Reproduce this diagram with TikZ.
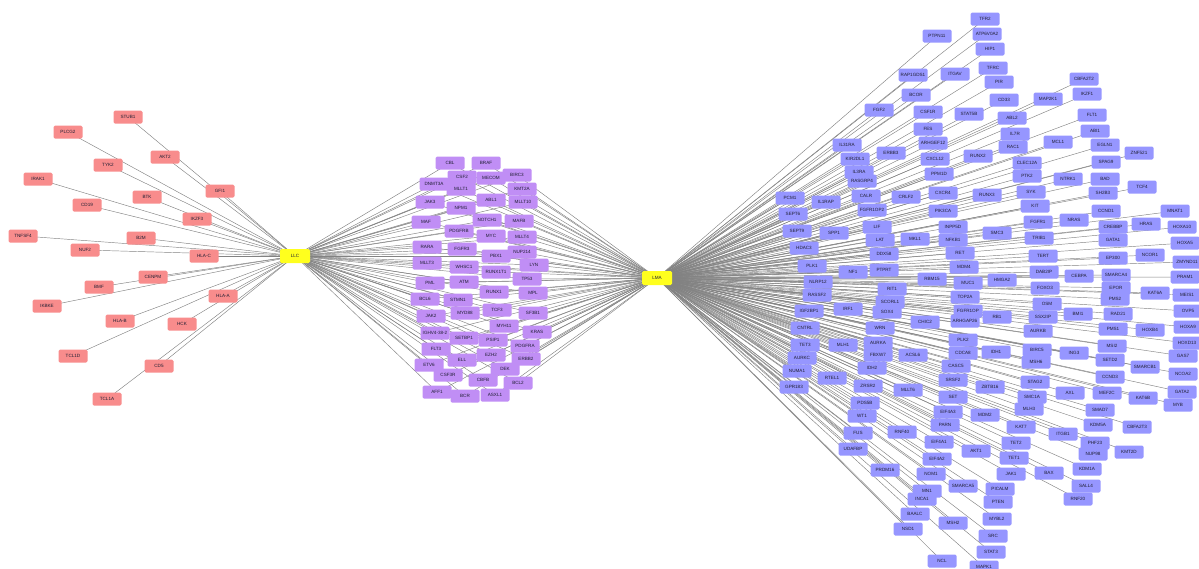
\documentclass[tikz,border=0pt]{standalone}
\usepackage{fontspec}
\newfontfamily\labfont{Liberation Sans}
\usetikzlibrary{backgrounds}
\definecolor{llcred}{RGB}{248,140,140}
\definecolor{midpurple}{RGB}{192,142,245}
\definecolor{lmablue}{RGB}{150,150,255}
\definecolor{hubyellow}{RGB}{255,255,30}
\definecolor{edgegray}{RGB}{130,130,130}
\definecolor{labink}{RGB}{30,30,50}
\tikzset{
  gene/.style={rounded corners=1.5pt, minimum width=29pt, minimum height=13pt,
    inner sep=0.5pt, font=\labfont\fontsize{4.6}{5}\selectfont, text=labink},
  llcgene/.style={gene, fill=llcred},
  sharedgene/.style={gene, fill=midpurple},
  lmagene/.style={gene, fill=lmablue},
  hub/.style={gene, fill=hubyellow, minimum width=30pt, minimum height=14pt},
  link/.style={draw=edgegray, line width=0.45pt}
}
% genes linked to LLC only
\def\llclist{STUB1/128/117, PLCG2/68/132, AKT2/165/157, TYK2/108/165, GFI1/220/191,
  IRAK1/38/179, BTK/147/197, CD19/87/205, IKZF3/197/219, TNFSF4/23/236, B2M/141/238,
  NUF2/85/250, HLA-C/204/256, CENPM/153/277, BMF/99/287, IKBKE/47/306, HLA-A/223/296,
  HLA-B/120/321, HCK/182/324, TCL1D/73/356, CD5/159/366, TCL1A/107/399}
% genes shared by LLC and LMA
\def\midlist{CBL/450/163, BRAF/486/163, CSF2/462/177, MECOM/491/178, BIRC3/517/175,
  DNMT3A/434/184, MLLT1/461/189, KMT2A/522/189, ABL1/491/200, MLLT10/523/202,
  JAK3/430/202, NPM1/461/208, NOTCH1/487/220, MAFB/519/221, MAF/426/222,
  PDGFRB/459/231, MYC/491/236, MLLT4/522/237, RARA/427/247, FGFR3/462/249,
  NUP214/522/252, PBX1/496/256, MLLT3/427/263, WHSC1/464/267, LYN/534/265,
  RUNX1T1/496/272, TP53/527/279, PML/430/283, ATM/464/282, RUNX1/494/292,
  MPL/533/293, BCL6/425/299, STMN1/458/300, TCF3/497/310, MYD88/465/313,
  SF3B1/533/313, JAK2/431/316, MYH11/504/326, KRAS/537/332, IGHV4-38-2/435/333,
  SETBP1/464/338, PSIP1/493/340, PDGFRA/525/346, FLT3/436/349, EZH2/491/355,
  ERBB2/526/359, ELL/462/360, ETV6/429/365, DEK/505/369, CSF3R/448/375,
  CBFB/483/380, BCL2/518/383, AFF1/437/392, BCR/465/396, ASXL1/495/395}
% genes linked to LMA only
\def\lmalistA{TFR2/985/19, PTPN11/937/36, ATP6V0A2/987/34, HIP1/990/49, RAP1GDS1/913/75,
  ITGAV/955/74, TFRC/993/68, PIR/999/82, BCOR/916/95, CD33/1004/100, FGF2/879/110,
  CSF1R/928/112, STAT5B/969/114, ABL2/1012/118, FES/928/129, IL7R/1015/134,
  ARHGEF12/933/143, IL31RA/847/145, RAC1/1013/147, ERBB3/891/153, KIR2DL1/855/159,
  CXCL12/935/159, RUNX2/978/156, CLEC12A/1027/163, IL3RA/859/172, PPM1D/939/174,
  PTK2/1027/176, RASGRP4/862/181, PCM1/790/198, IL1RAP/826/202, CALR/866/196,
  CRLF2/906/197, CXCR4/943/193, RUNX3/987/195, SYK/1031/192, FGFR1OP2/872/210,
  SEPT6/793/214, PIK3CA/943/211, KIT/1035/206, LIF/877/227, INPP5D/953/227,
  SEPT9/797/231, SPP1/834/233, SMC3/997/233, LAT/880/240, MKL1/915/239,
  NFKB1/953/240, HDAC3/804/248, DDX58/884/254, RET/960/253, PLK1/812/266,
  NF1/853/272, PTPRT/884/270, MDM4/964/267, RBM15/932/279, NLRP12/818/282,
  MUC1/968/283, RIT1/892/289, RASSF2/817/295, TOP2A/965/297, SCORL1/890/302,
  IGF2BP1/809/311, IRF1/848/309, SOX4/887/312, FGFR1OP/968/311, ARHGAP26/965/321,
  CHIC2/925/322, CNTRL/805/328, WRN/880/328, PLK2/963/340, TET3/805/345,
  MLH1/843/345, AURKA/878/343, FBXW7/878/355, ACSL6/913/355, CDCA8/963/353,
  AURKC/802/358, IDH2/872/368, CASC5/956/366, NUMA1/797/371, RTEL1/832/378,
  SRSF2/953/380, GPR183/794/387, ZRSR2/868/386, MLLT6/908/390, SET/953/397,
  PDS5B/865/403, WT1/862/416, EIF4A3/948/412, MDM2/985/415, PARN/945/425,
  FUS/858/433, RNF40/902/432, EIF4A1/939/442, UDAFBP/853/449, AKT1/976/451,
  EIF4A2/937/459, PRDM16/885/470, NOM1/931/474, SMARCA5/963/486, MN1/927/491,
  INCA1/922/499, BAALC/915/514, MSH2/953/523, NSD1/908/529, SRC/993/536,
  STAT3/991/552, NCL/942/561, MAPK1/984/567}
\def\lmalistB{CBFA2T2/1084/79, MAP2K1/1048/99, IKZF1/1087/94, FLT1/1092/115,
  ABI1/1095/131, MCL1/1058/142, EGLN1/1105/145, ZNF521/1139/153, SPAG9/1106/162,
  NTRK1/1068/179, BAD/1105/179, TCF4/1142/187, SH2B3/1103/193, CCND1/1106/211,
  MNAT1/1175/211, FGFR1/1038/222, NRAS/1074/220, CREBBP/1113/227, HRAS/1146/224,
  HOXA10/1182/227, TRIB1/1039/238, GATA1/1113/240, HOXA5/1185/243, TERT/1043/256,
  EP300/1113/258, NCOR1/1150/255, ZMYND11/1187/262, DAB2IP/1044/272, CEBPA/1079/276,
  SMARCA4/1116/275, PRAM1/1185/277, HMGA2/1002/280, FOXO3/1045/288, EPOR/1116/288,
  KAT6A/1155/293, MEIS1/1187/295, PMS2/1115/299, OSM/1047/304, OVP5/1188/311,
  RB1/997/317, SSX2IP/1043/317, BMI1/1078/314, RAD21/1118/314, AURKB/1038/331,
  PMS1/1113/329, HOXB4/1150/330, HOXA9/1188/327, HOXD13/1187/343, MSI2/1112/346,
  IDH1/996/352, BIRC5/1037/350, ING3/1074/353, GAS7/1183/356, SETD2/1110/360,
  MSH6/1036/362, SMARCB1/1145/367, NCOA2/1183/374, CCND3/1110/377, STAG2/1035/382,
  ZBTB16/990/387, MEF2C/1107/393, AXL/1070/393, GATA2/1182/392, SMC1A/1032/397,
  KAT6B/1143/398, MYB/1178/405, MLH3/1029/409, SMAD7/1100/410, KAT7/1021/427,
  KDM5A/1098/425, CBFA2T3/1137/427, ITGB1/1063/434, TET2/1016/443, PHF23/1095/443,
  NUP98/1093/454, KMT2D/1129/452, TET1/1014/458, KDM1A/1087/469, BAX/1049/473,
  JAK1/1011/474, PICALM/1000/489, SALL4/1086/486, PTEN/998/502, RNF20/1078/499,
  MYBL2/997/519}
\begin{document}
\begin{tikzpicture}[x=1pt,y=-1pt]
\useasboundingbox (0,0) rectangle (1199,568);
% hubs
\node[hub] (LLC) at (295,256) {LLC};
\node[hub] (LMA) at (657,278) {LMA};
% gene nodes
\foreach \n/\x/\y in \llclist {\node[llcgene] (\n) at (\x,\y) {\n};}
\foreach \n/\x/\y in \midlist {\node[sharedgene] (\n) at (\x,\y) {\n};}
\foreach \n/\x/\y in \lmalistA {\node[lmagene] (\n) at (\x,\y) {\n};}
\foreach \n/\x/\y in \lmalistB {\node[lmagene] (\n) at (\x,\y) {\n};}
% links, behind the boxes
\begin{pgfonlayer}{background}
\foreach \n/\x/\y in \llclist {\draw[link] (LLC.center) -- (\n.center);}
\foreach \n/\x/\y in \midlist {\draw[link] (LLC.center) -- (\n.center);
  \draw[link] (LMA.center) -- (\n.center);}
\foreach \n/\x/\y in \lmalistA {\draw[link] (LMA.center) -- (\n.center);}
\foreach \n/\x/\y in \lmalistB {\draw[link] (LMA.center) -- (\n.center);}
\end{pgfonlayer}
\end{tikzpicture}
\end{document}
